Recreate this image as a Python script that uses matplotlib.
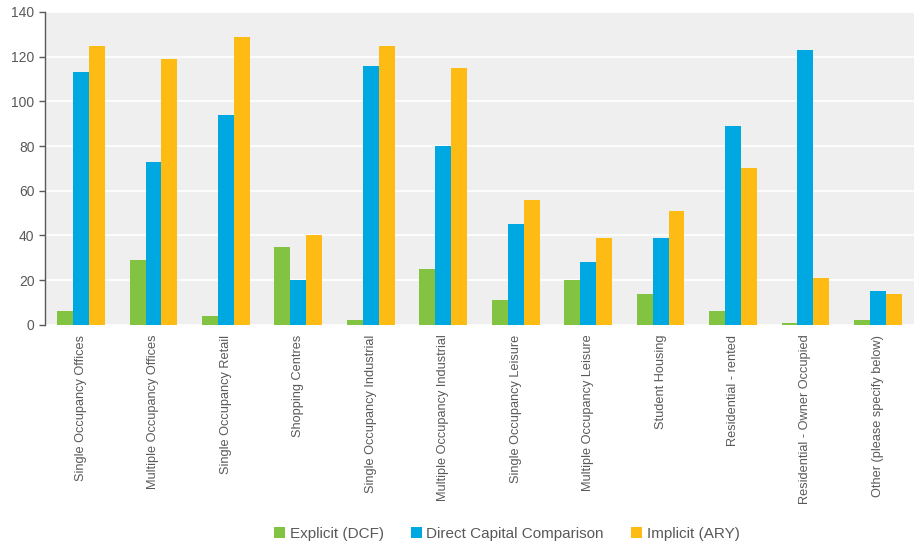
import matplotlib
matplotlib.use("Agg")
import matplotlib.pyplot as plt
import numpy as np

categories = ["Single Occupancy Offices", "Multiple Occupancy Offices", "Single Occupancy Retail",
              "Shopping Centres", "Single Occupancy Industrial", "Multiple Occupancy Industrial",
              "Single Occupancy Leisure", "Multiple Occupancy Leisure", "Student Housing",
              "Residential - rented", "Residential - Owner Occupied", "Other (please specify below)"]
explicit_dcf = [6, 29, 4, 35, 2, 25, 11, 20, 14, 6, 1, 2]
direct_capital = [113, 73, 94, 20, 116, 80, 45, 28, 39, 89, 123, 15]
implicit_ary = [125, 119, 129, 40, 125, 115, 56, 39, 51, 70, 21, 14]
series_names = ["Explicit (DCF)", "Direct Capital Comparison", "Implicit (ARY)"]
colors = ["#82c341", "#00a8e1", "#fdbb13"]
yticks = [0, 20, 40, 60, 80, 100, 120, 140]

plt.rcParams['font.family'] = ['Liberation Sans', 'DejaVu Sans']
txt = "#595959"

fig = plt.figure(figsize=(9.15, 5.45), dpi=100)
ax = fig.add_axes([0.049, 0.404, 0.95, 0.574])
ax.set_facecolor("#efefef")

x = np.arange(len(categories))
w = 0.22
for i, (vals, name, c) in enumerate(zip([explicit_dcf, direct_capital, implicit_ary], series_names, colors)):
    ax.bar(x + (i - 1) * w, vals, w, color=c, label=name, zorder=3, linewidth=0)

ax.set_xlim(-0.5, len(categories) - 0.5)
ax.set_ylim(0, 140)
ax.set_yticks(yticks)
ax.grid(axis='y', color='white', linewidth=1.2, zorder=1)
ax.set_axisbelow(True)
for s in ['top', 'right', 'bottom']:
    ax.spines[s].set_visible(False)
ax.spines['left'].set_color('#595959')
ax.spines['left'].set_linewidth(1.0)
ax.tick_params(axis='y', colors=txt, labelsize=10, length=4, color='#595959', width=1)
ax.tick_params(axis='x', length=0, pad=7)
ax.set_xticks(x)
ax.set_xticklabels(categories, rotation=90, fontsize=9.2, color=txt)

handles, labels = ax.get_legend_handles_labels()
fig.legend(handles, labels, loc='lower center', bbox_to_anchor=(0.554, -0.018), ncol=3, frameon=False,
           fontsize=11, labelcolor=txt, handlelength=0.7, handleheight=0.7, handletextpad=0.3,
           columnspacing=1.8)

fig.savefig("out.png", dpi=100)
